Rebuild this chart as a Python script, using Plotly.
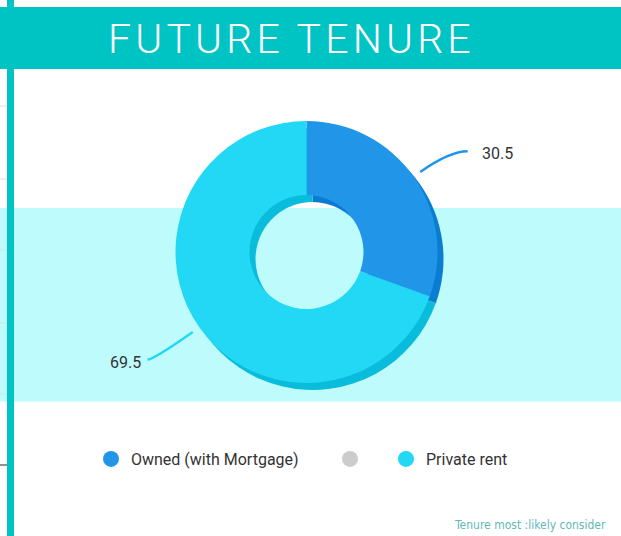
import math
import plotly.graph_objects as go

# ---- data ----
categories = ["Owned (with Mortgage)", "", "Private rent"]
values = [30.5, 0, 69.5]
colors = ["#2196E8", "#CCCCCC", "#22D8F5"]
shadow_colors = ["#0A7DD2", "#AAAAAA", "#0ABCDB"]
title_text = "FUTURE TENURE"
note_text = "Tenure most :likely consider"

W, H = 621, 536
CX, CY, R = 306.5, 252.0, 131.0   # donut centre/radius in px
SHX, SHY = 6, 7                    # shadow offset in px
HOLE = 0.435
LEGEND_DOT_X = [112, 351, 407]     # legend dot centres (px)
LEGEND_Y = 459

def px(x):
    return x / W

def py(y):
    return 1 - y / H

def domain(cx, cy, r):
    return dict(x=[px(cx - r), px(cx + r)], y=[py(cy + r), py(cy - r)])

fig = go.Figure()

# shadow donut
fig.add_trace(go.Pie(
    labels=categories, values=values, hole=HOLE, sort=False,
    direction="clockwise", rotation=0, textinfo="none", hoverinfo="skip",
    marker=dict(colors=shadow_colors, line=dict(width=0)),
    domain=domain(CX + SHX, CY + SHY, R), showlegend=False,
))
# main donut
fig.add_trace(go.Pie(
    labels=categories, values=values, hole=HOLE, sort=False,
    direction="clockwise", rotation=0, textinfo="none",
    marker=dict(colors=colors, line=dict(width=0)),
    domain=domain(CX, CY, R), showlegend=False,
))

# legend entries as circle markers, one legend each so they can be placed
legend_layouts = {}
for k, (name, col) in enumerate(zip(categories, colors)):
    lname = "legend" if k == 0 else f"legend{k + 1}"
    fig.add_trace(go.Scatter(
        x=[None], y=[None], mode="markers", name=name,
        marker=dict(size=18, color=col, symbol="circle"),
        showlegend=True, legend=lname,
    ))
    legend_layouts[lname] = dict(
        orientation="h", x=px(LEGEND_DOT_X[k] - 21), xanchor="left",
        y=py(LEGEND_Y), yanchor="middle", itemsizing="trace",
        font=dict(family="Roboto", size=16, color="#333333"),
        bgcolor="rgba(0,0,0,0)", borderwidth=0,
    )

shapes = []
# light band
shapes.append(dict(type="rect", xref="paper", yref="paper", x0=0, x1=1,
                   y0=py(401.5), y1=py(208), fillcolor="#BEFBFC",
                   line=dict(width=0), layer="below"))
# left gridline remnants
for gy in [106, 179, 250, 323, 394]:
    shapes.append(dict(type="line", xref="paper", yref="paper", x0=0, x1=px(8),
                       y0=py(gy), y1=py(gy), line=dict(color="#DDDDDD", width=1),
                       layer="below"))
shapes.append(dict(type="line", xref="paper", yref="paper", x0=0, x1=px(8),
                   y0=py(465), y1=py(465), line=dict(color="#222222", width=1),
                   layer="below"))
# header band
shapes.append(dict(type="rect", xref="paper", yref="paper", x0=0, x1=1,
                   y0=py(69), y1=py(7), fillcolor="#00C4C4",
                   line=dict(width=0), layer="below"))
# left vertical bar
shapes.append(dict(type="rect", xref="paper", yref="paper", x0=px(7), x1=px(14),
                   y0=0, y1=1, fillcolor="#00C4C4", line=dict(width=0),
                   layer="below"))

annotations = []
# connectors + labels computed from slice mid-angles
total = sum(values)
cum = 0.0
conn_len = {0: 36, 2: 48}
hook = {0: 18, 2: 6}
for i, v in enumerate(values):
    if v <= 0:
        cum += v
        continue
    mid = (cum + v / 2) / total * 2 * math.pi
    cum += v
    dx, dy = math.sin(mid), -math.cos(mid)
    r0 = R + 8
    sx, sy = CX + r0 * dx, CY + r0 * dy
    bx, by = CX + (r0 + conn_len[i]) * dx, CY + (r0 + conn_len[i]) * dy
    side = 1 if dx > 0 else -1
    ex, ey = bx + side * hook[i], by
    path = (f"M {px(sx)},{py(sy)} Q {px(bx)},{py(by)} {px(ex)},{py(ey)}")
    shapes.append(dict(type="path", xref="paper", yref="paper", path=path,
                       line=dict(color=colors[i], width=2.5)))
    annotations.append(dict(
        x=px(ex), y=py(ey), xref="paper", yref="paper",
        text=f"{v}", showarrow=False,
        xanchor="left" if side > 0 else "right", yanchor="middle",
        xshift=12 if side > 0 else -5, yshift=-2 if side > 0 else -3,
        font=dict(family="Roboto", size=16, color="#333333"),
    ))

# title (letters slightly spaced with hair spaces inside words)
spaced_title = "\u200a\u2009\u200a".join("\u200a".join(w) for w in title_text.split(" "))
annotations.append(dict(
    x=px(289.5), y=py(39), xref="paper", yref="paper", text=spaced_title,
    showarrow=False, xanchor="center", yanchor="middle",
    font=dict(family="Roboto", size=41, color="#FFFFFF", weight=300),
))
# bottom note
annotations.append(dict(
    x=px(608), y=py(534), xref="paper", yref="paper", text=note_text,
    showarrow=False, xanchor="right", yanchor="bottom",
    font=dict(family="DejaVu Sans Condensed, Roboto", size=12, color="#62B8B8"),
))

fig.update_layout(
    width=W, height=H, margin=dict(l=0, r=0, t=0, b=0),
    paper_bgcolor="#FFFFFF", plot_bgcolor="rgba(0,0,0,0)",
    xaxis=dict(visible=False), yaxis=dict(visible=False),
    shapes=shapes, annotations=annotations,
    **legend_layouts,
)

fig.write_html("out.html", config={"displayModeBar": False},
               post_script="document.body.style.margin='0';"
                           "document.body.style.overflow='hidden';")
